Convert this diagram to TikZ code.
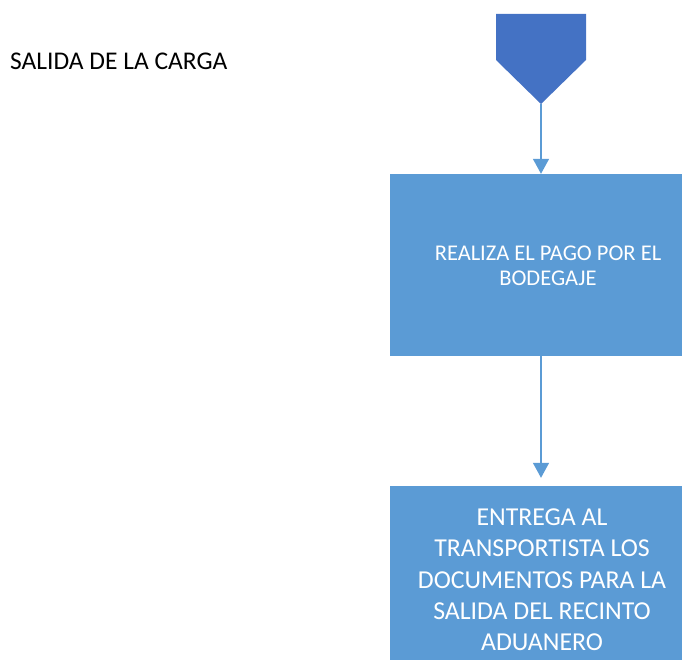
\documentclass[tikz,border=0pt]{standalone}
\usepackage{fontspec}
\setmainfont{Carlito}
\usetikzlibrary{arrows.meta,positioning}

\definecolor{conncolor}{HTML}{4472C4}
\definecolor{boxcolor}{HTML}{5B9BD5}

\tikzset{
    box/.style={fill=boxcolor,draw=none,minimum width=292pt,inner sep=0pt},
    boxtext/.style={text=white,align=center,inner sep=0pt},
    flow/.style={-{Triangle[length=15pt,width=16pt]},boxcolor,line width=1.5pt}
}

\begin{document}
\begin{tikzpicture}[x=1pt,y=-1pt]
    \useasboundingbox (0,0) rectangle (682,660);

    % Title
    \node[anchor=west,inner sep=0pt,font=\fontsize{25.5}{30}\selectfont] (titulo) at (10,61) {SALIDA DE LA CARGA};

    % Off-page connector
    \fill[conncolor] (496,14) -- (586,14) -- (586,60) -- (541,104) -- (496,60) -- cycle;
    \coordinate (conector) at (541,104);

    % Process boxes
    \node[box,minimum height=182pt] (pago) at (536,265) {};
    \node[boxtext,font=\fontsize{22.5}{25}\selectfont] (pagotxt) at (548,266)
        {REALIZA EL PAGO POR EL\\BODEGAJE};

    \node[box,minimum height=190pt] (entrega) at (536,581) {};
    \node[boxtext,font=\fontsize{25.8}{31.3}\selectfont] (entregatxt) at (542,580)
        {ENTREGA AL\\TRANSPORTISTA LOS\\DOCUMENTOS PARA LA\\SALIDA DEL RECINTO\\ADUANERO};

    % Arrows
    \draw[flow] (conector) -- (pago.north -| conector);
    \draw[flow] (pago.south -| conector) -- ([yshift=8pt]entrega.north -| conector);
\end{tikzpicture}
\end{document}
